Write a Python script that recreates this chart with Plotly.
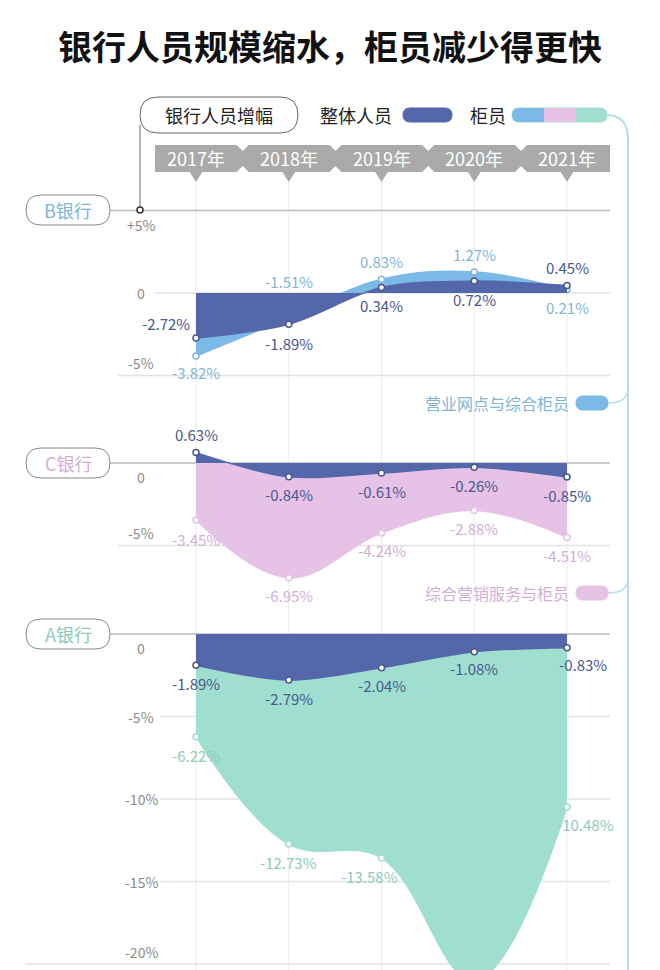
import plotly.graph_objects as go

W, H = 660, 970
years = ["2017年", "2018年", "2019年", "2020年", "2021年"]
xs = [0, 1, 2, 3, 4]

b_all = [-2.72, -1.89, 0.34, 0.72, 0.45]
b_tel = [-3.82, -1.51, 0.83, 1.27, 0.21]
c_all = [0.63, -0.84, -0.61, -0.26, -0.85]
c_tel = [-3.45, -6.95, -4.24, -2.88, -4.51]
a_all = [-1.89, -2.79, -2.04, -1.08, -0.83]
a_tel = [-6.22, -12.73, -13.58, -21.0, -10.48]

DARK = "#5467ab"
DARK_TXT = "#4a5890"
B_COL, C_COL, A_COL = "#7bb9e6", "#e6c3e6", "#a0dfd0"
B_TXT, C_TXT, A_TXT = "#7fb5d8", "#d2afd6", "#8ccbbb"
FONT = "Noto Sans CJK SC"
GRID = "#e3e3e3"

def px(p):
    return p / W

def py(p):
    return 1 - p / H

fig = go.Figure()

def add_pair(all_v, tel_v, col, yax):
    fig.add_trace(go.Scatter(x=xs, y=tel_v, yaxis=yax, mode="lines+markers",
                             line=dict(color=col, width=1.5, shape="spline", smoothing=1.1),
                             fill="tozeroy", fillcolor=col,
                             marker=dict(size=6, color="white", line=dict(color=col, width=1.5)),
                             hoverinfo="skip", showlegend=False))
    fig.add_trace(go.Scatter(x=xs, y=all_v, yaxis=yax, mode="lines+markers",
                             line=dict(color=DARK, width=1.5, shape="spline", smoothing=0.9),
                             fill="tozeroy", fillcolor=DARK,
                             marker=dict(size=6, color="white", line=dict(color=DARK_TXT, width=1.5)),
                             hoverinfo="skip", showlegend=False))

add_pair(b_all, b_tel, B_COL, "y")
add_pair(c_all, c_tel, C_COL, "y2")
add_pair(a_all, a_tel, A_COL, "y3")

ann = []

def note(x, y, text, size, color, xref="paper", yref="paper", xanchor="center", **kw):
    ann.append(dict(x=x, y=y, xref=xref, yref=yref, text=text, showarrow=False,
                    xanchor=xanchor, yanchor="middle",
                    font=dict(family=FONT, size=size, color=color), **kw))

def labels(vals, color, yref, shifts, skip=()):
    for i, v in enumerate(vals):
        if i in skip:
            continue
        dx, dy = shifts[i]
        note(xs[i], v, f"{v:.2f}%", 15, color, xref="x", yref=yref, xshift=dx, yshift=dy)

labels(b_all, DARK_TXT, "y", [(-30, 14), (0, -19), (0, -18), (0, -18), (0, 18)])
labels(b_tel, B_TXT, "y", [(0, -16), (0, 36), (0, 18), (0, 18), (0, -18)])
labels(c_all, DARK_TXT, "y2", [(0, 18), (0, -18), (0, -18), (0, -18), (0, -18)])
labels(c_tel, C_TXT, "y2", [(0, -20), (0, -18), (0, -18), (0, -18), (0, -18)])
labels(a_all, DARK_TXT, "y3", [(0, -18), (0, -18), (0, -18), (0, -17), (16, -17)])
labels(a_tel, A_TXT, "y3", [(0, -19), (0, -18), (-12, -18), (0, 0), (18, -18)], skip=(3,))

# y tick labels
ticks = [("y", 5, "+5%", -15), ("y", 0, "0", 0), ("y", -5, "-5%", 12),
         ("y2", 0, "0", -14), ("y2", -5, "-5%", 13),
         ("y3", 0, "0", -14), ("y3", -5, "-5%", 0), ("y3", -10, "-10%", 0),
         ("y3", -15, "-15%", 0), ("y3", -20, "-20%", 12)]
for yr, v, t, dy in ticks:
    note(px(141), v, t, 14, "#8a8a8a", yref=yr, yshift=dy)

shapes = []
# vertical year lines
for x in xs:
    shapes.append(dict(type="line", xref="x", yref="paper", x0=x, x1=x, y0=py(970), y1=py(182),
                       line=dict(color="#ececec", width=1), layer="below"))
# horizontal grid
for yr, v, x0, col in [("y", 5, 110, "#bdbdbd"), ("y", 0, 155, GRID), ("y", -5, 118, GRID),
                       ("y2", 0, 110, "#bdbdbd"), ("y2", -5, 118, GRID),
                       ("y3", 0, 110, "#bdbdbd"), ("y3", -5, 160, GRID), ("y3", -10, 160, GRID),
                       ("y3", -15, 160, GRID), ("y3", -20, 25, GRID)]:
    shapes.append(dict(type="line", xref="paper", yref=yr, x0=px(x0), x1=px(610), y0=v, y1=v,
                       line=dict(color=col, width=1.5), layer="below"))

def pill(x0, x1, y0, y1, line_col, fill="white", width=1):
    r = (y1 - y0) / 2
    path = (f"M {px(x0 + r)},{py(y0)} L {px(x1 - r)},{py(y0)} "
            f"Q {px(x1)},{py(y0)} {px(x1)},{py(y0 + r)} Q {px(x1)},{py(y1)} {px(x1 - r)},{py(y1)} "
            f"L {px(x0 + r)},{py(y1)} Q {px(x0)},{py(y1)} {px(x0)},{py(y0 + r)} "
            f"Q {px(x0)},{py(y0)} {px(x0 + r)},{py(y0)} Z")
    shapes.append(dict(type="path", xref="paper", yref="paper", path=path,
                       line=dict(color=line_col, width=width), fillcolor=fill))

# bank pills
for name, yc, col in [("B银行", 210, B_TXT), ("C银行", 463, C_TXT), ("A银行", 634, A_TXT)]:
    pill(26, 110, yc - 15, yc + 15, "#888")
    note(px(68), py(yc), name, 18, col)

# header pill and stem
pill(140, 298, 97, 133, "#666")
shapes.append(dict(type="line", xref="paper", yref="paper", x0=px(140), x1=px(140),
                   y0=py(210), y1=py(125), line=dict(color="#666", width=1)))
shapes.append(dict(type="circle", xref="paper", yref="paper", x0=px(137), x1=px(143),
                   y0=py(213), y1=py(207), line=dict(color="#333", width=1.5), fillcolor="white"))
note(px(219), py(115), "银行人员增幅", 18, "#222")

# legend
note(px(356), py(115), "整体人员", 18, "#222")
pill(403, 452, 108, 122, DARK, DARK)
note(px(488), py(115), "柜员", 18, "#222")
pill(512, 607, 108, 122, A_COL, A_COL)
shapes.append(dict(type="rect", xref="paper", yref="paper", x0=px(519), x1=px(544),
                   y0=py(122), y1=py(108), line=dict(width=0), fillcolor=B_COL))
shapes.append(dict(type="rect", xref="paper", yref="paper", x0=px(544), x1=px(576),
                   y0=py(122), y1=py(108), line=dict(width=0), fillcolor=C_COL))
shapes.append(dict(type="path", xref="paper", yref="paper",
                   path=f"M {px(519)},{py(108)} Q {px(512)},{py(108)} {px(512)},{py(115)} Q {px(512)},{py(122)} {px(519)},{py(122)} Z",
                   line=dict(width=0), fillcolor=B_COL))

# right connector
shapes.append(dict(type="path", xref="paper", yref="paper",
                   path=f"M {px(607)},{py(115)} Q {px(628)},{py(115)} {px(628)},{py(140)} L {px(628)},{py(970)}",
                   line=dict(color="#b9dcef", width=2)))
for yc, col, txt, tc in [(403, B_COL, "营业网点与综合柜员", B_TXT), (593, C_COL, "综合营销服务与柜员", C_TXT)]:
    shapes.append(dict(type="path", xref="paper", yref="paper",
                       path=f"M {px(608)},{py(yc)} Q {px(628)},{py(yc)} {px(628)},{py(yc - 15)}",
                       line=dict(color="#b9dcef", width=1.5)))
    pill(576, 608, yc - 7, yc + 7, col, col)
    note(px(571), py(yc), txt, 16, tc, xanchor="right")

# year bar
shapes.append(dict(type="rect", xref="paper", yref="paper", x0=px(155), x1=px(610),
                   y0=py(172), y1=py(145), line=dict(width=0), fillcolor="#aaaaaa"))
for i, x in enumerate(xs):
    c = 196 + 92.75 * i
    shapes.append(dict(type="path", xref="paper", yref="paper",
                       path=f"M {px(c - 7)},{py(171)} L {px(c + 7)},{py(171)} L {px(c)},{py(182)} Z",
                       line=dict(width=0), fillcolor="#aaaaaa"))
    if i > 0:
        m = c - 46
        for y0, y1 in [(145, 151), (172, 166)]:
            shapes.append(dict(type="path", xref="paper", yref="paper",
                               path=f"M {px(m - 6)},{py(y0)} L {px(m + 6)},{py(y0)} L {px(m)},{py(y1)} Z",
                               line=dict(width=0), fillcolor="white"))
    note(x, py(158), years[i], 18, "white", xref="x")

note(0.5, py(45), "<b>银行人员规模缩水，柜员减少得更快</b>", 34, "#111")

S = 16.5
def dom(top, bot):
    return [py(bot), py(top)]

fig.update_layout(
    width=W, height=H, margin=dict(l=0, r=0, t=0, b=0),
    plot_bgcolor="white", paper_bgcolor="white",
    xaxis=dict(domain=[0, 1], range=[(0 - 196) / 92.75, (660 - 196) / 92.75], visible=False),
    yaxis=dict(domain=dom(200, 385), range=[(293 - 385) / S, (293 - 200) / S], visible=False),
    yaxis2=dict(domain=dom(440, 610), range=[(463 - 610) / S, (463 - 440) / S], visible=False, anchor="x"),
    yaxis3=dict(domain=dom(625, 970), range=[(634 - 970) / S, (634 - 625) / S], visible=False, anchor="x"),
    annotations=ann, shapes=shapes,
)

fig.write_html("out.html", config={"displayModeBar": False},
               post_script="document.body.style.margin='0';")
